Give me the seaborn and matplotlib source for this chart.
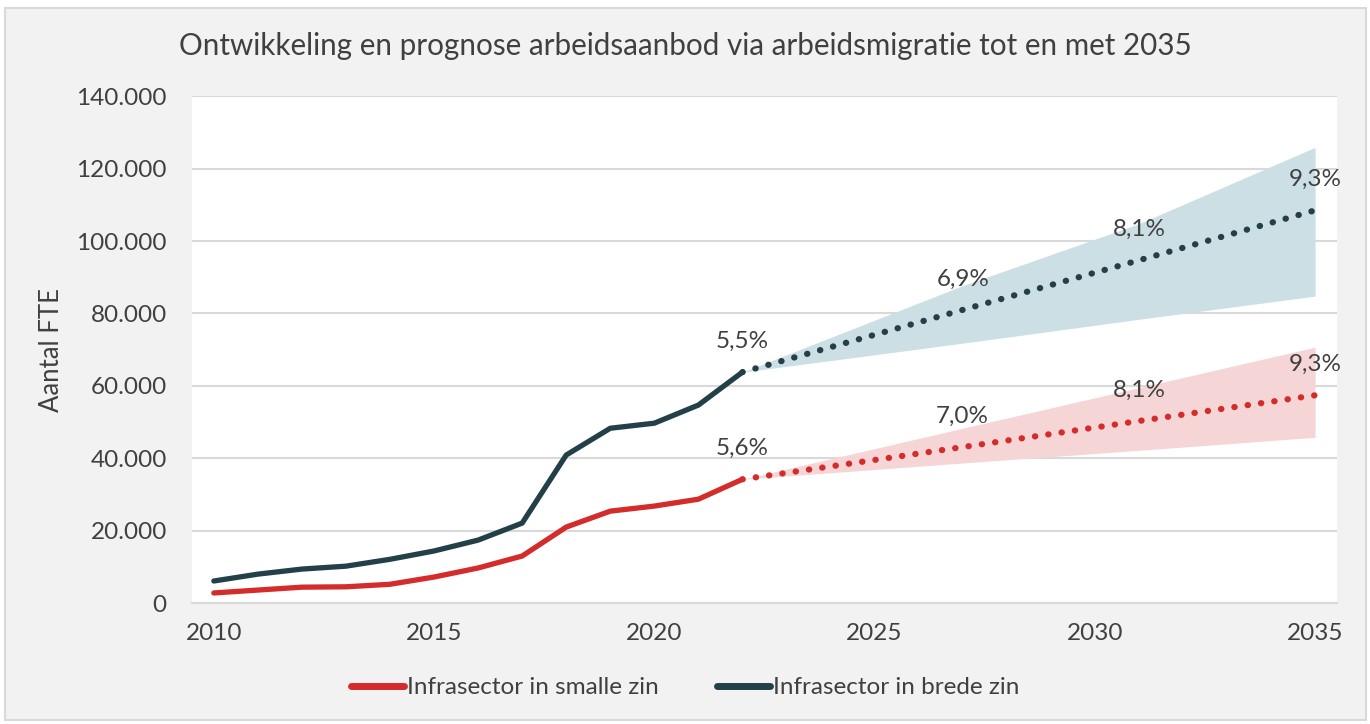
import pandas as pd
import numpy as np
import matplotlib
matplotlib.use("Agg")
import matplotlib.pyplot as plt
import seaborn as sns
from matplotlib.lines import Line2D
from matplotlib.patches import Rectangle
from matplotlib.ticker import FuncFormatter

# historische reeksen 2010-2022
jaren = list(range(2010, 2023))
smal = [2800, 3600, 4400, 4500, 5200, 7200, 9700, 13000, 21000, 25400, 26800, 28700, 34200]
breed = [6100, 8000, 9400, 10200, 12100, 14400, 17400, 22100, 40900, 48300, 49700, 54700, 63800]

# prognose
prog_jaren = [2022, 2027, 2031, 2035]
smal_prog = [34200, 43100, 50300, 57400]
smal_hoog = [34200, 48300, 59500, 70700]
smal_laag = [34200, 38700, 42200, 45800]
breed_prog = [63800, 81000, 94700, 108500]
breed_hoog = [63800, 87700, 104800, 125900]
breed_laag = [63800, 71800, 78400, 84800]
smal_labels = ["5,6%", "7,0%", "8,1%", "9,3%"]
breed_labels = ["5,5%", "6,9%", "8,1%", "9,3%"]

rood = "#d42b2b"
donker = "#233f47"
tekst = "#404040"

sns.set_style("white")
plt.rcParams["font.family"] = ["Lato", "DejaVu Sans"]

df = pd.DataFrame({
    "jaar": jaren * 2,
    "fte": smal + breed,
    "reeks": ["Infrasector in smalle zin"] * len(jaren) + ["Infrasector in brede zin"] * len(jaren),
})
df_prog = pd.DataFrame({
    "jaar": prog_jaren * 2,
    "fte": smal_prog + breed_prog,
    "reeks": ["Infrasector in smalle zin"] * 4 + ["Infrasector in brede zin"] * 4,
})
kleuren = {"Infrasector in smalle zin": rood, "Infrasector in brede zin": donker}

fig = plt.figure(figsize=(13.7, 7.24), dpi=100, facecolor="white")
fig.patches.append(Rectangle((0.004, 0.006), 0.993, 0.983, transform=fig.transFigure,
                             facecolor="#f2f2f2", edgecolor="#d9d9d9", lw=1.5, zorder=-10))
ax = fig.add_axes([0.140, 0.167, 0.836, 0.700])
ax.set_facecolor("white")

ax.fill_between(prog_jaren, breed_laag, breed_hoog, color="#cbdfe4", lw=0, zorder=1)
ax.fill_between(prog_jaren, smal_laag, smal_hoog, color="#f5d5d5", lw=0, zorder=1)

sns.lineplot(data=df, x="jaar", y="fte", hue="reeks", palette=kleuren, lw=3.8,
             solid_capstyle="round", legend=False, ax=ax, zorder=3)
sns.lineplot(data=df_prog, x="jaar", y="fte", hue="reeks", palette=kleuren, lw=4.5,
             linestyle=(0, (0.05, 2.1)), dash_capstyle="round", legend=False, ax=ax, zorder=3)

for x, y, t in zip(prog_jaren, breed_prog, breed_labels):
    ax.text(x, y + 8500, t, ha="center", va="center", fontsize=17.5, color=tekst)
for x, y, t in zip(prog_jaren, smal_prog, smal_labels):
    ax.text(x, y + 8500, t, ha="center", va="center", fontsize=17.5, color=tekst)

ax.set_xlim(2009.5, 2035.5)
ax.set_ylim(0, 140000)
ax.set_yticks(range(0, 140001, 20000))
ax.set_xticks(range(2010, 2036, 5))
ax.yaxis.set_major_formatter(FuncFormatter(lambda v, p: f"{int(v):,}".replace(",", ".")))
ax.grid(axis="y", color="#d9d9d9", lw=1.5, zorder=0)
ax.set_axisbelow(True)
for s in ["top", "right", "left"]:
    ax.spines[s].set_visible(False)
ax.spines["bottom"].set_color("#d9d9d9")
ax.spines["bottom"].set_linewidth(1.5)
ax.tick_params(axis="both", length=0, labelsize=17.5, labelcolor=tekst)
ax.tick_params(axis="y", pad=18)
ax.tick_params(axis="x", pad=14)
ax.set_xlabel("")
ax.set_ylabel("Aantal FTE", fontsize=18.5, color=tekst, labelpad=9)

fig.text(0.131, 0.937, "Ontwikkeling en prognose arbeidsaanbod via arbeidsmigratie tot en met 2035",
         fontsize=21.3, color=tekst, ha="left", va="center")

handles = [Line2D([], [], color=rood, lw=5, solid_capstyle="round"),
           Line2D([], [], color=donker, lw=5, solid_capstyle="round")]
fig.legend(handles, ["Infrasector in smalle zin", "Infrasector in brede zin"],
           loc="center", bbox_to_anchor=(0.5, 0.05), ncol=2, frameon=False,
           fontsize=17.5, labelcolor=tekst, handlelength=2.2, handletextpad=0.1,
           columnspacing=2.4)

fig.savefig("out.png", dpi=100, facecolor=fig.get_facecolor())
